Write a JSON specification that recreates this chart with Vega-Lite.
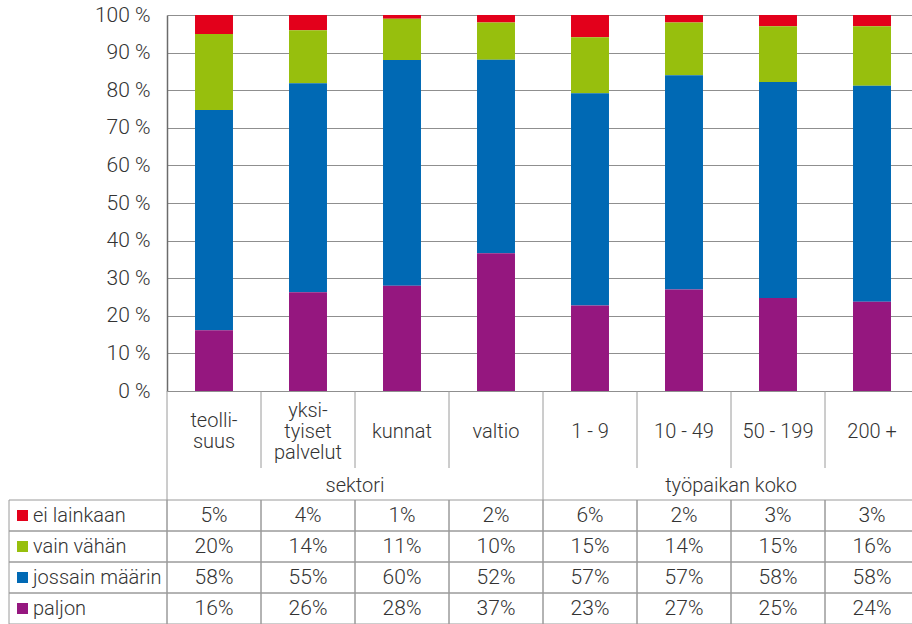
{
  "$schema": "https://vega.github.io/schema/vega-lite/v6.json",
  "autosize": {"type": "pad"},
  "padding": {"left": 8, "top": 4, "right": 0, "bottom": 0},
  "background": "white",
  "config": {
    "view": {"stroke": null},
    "font": "Roboto",
    "text": {"font": "Roboto", "fontWeight": 300, "fontSize": 20, "color": "#333333"},
    "axis": {"labelFont": "Roboto", "labelFontWeight": 300}
  },
  "datasets": {
    "osuudet": [
      {"sarake": "teolli-\nsuus", "sarja": "ei lainkaan", "osuus": 0.05},
      {"sarake": "teolli-\nsuus", "sarja": "vain vähän", "osuus": 0.20},
      {"sarake": "teolli-\nsuus", "sarja": "jossain määrin", "osuus": 0.58},
      {"sarake": "teolli-\nsuus", "sarja": "paljon", "osuus": 0.16},
      {"sarake": "yksi-\ntyiset\npalvelut", "sarja": "ei lainkaan", "osuus": 0.04},
      {"sarake": "yksi-\ntyiset\npalvelut", "sarja": "vain vähän", "osuus": 0.14},
      {"sarake": "yksi-\ntyiset\npalvelut", "sarja": "jossain määrin", "osuus": 0.55},
      {"sarake": "yksi-\ntyiset\npalvelut", "sarja": "paljon", "osuus": 0.26},
      {"sarake": "kunnat", "sarja": "ei lainkaan", "osuus": 0.01},
      {"sarake": "kunnat", "sarja": "vain vähän", "osuus": 0.11},
      {"sarake": "kunnat", "sarja": "jossain määrin", "osuus": 0.60},
      {"sarake": "kunnat", "sarja": "paljon", "osuus": 0.28},
      {"sarake": "valtio", "sarja": "ei lainkaan", "osuus": 0.02},
      {"sarake": "valtio", "sarja": "vain vähän", "osuus": 0.10},
      {"sarake": "valtio", "sarja": "jossain määrin", "osuus": 0.52},
      {"sarake": "valtio", "sarja": "paljon", "osuus": 0.37},
      {"sarake": "1 - 9", "sarja": "ei lainkaan", "osuus": 0.06},
      {"sarake": "1 - 9", "sarja": "vain vähän", "osuus": 0.15},
      {"sarake": "1 - 9", "sarja": "jossain määrin", "osuus": 0.57},
      {"sarake": "1 - 9", "sarja": "paljon", "osuus": 0.23},
      {"sarake": "10 - 49", "sarja": "ei lainkaan", "osuus": 0.02},
      {"sarake": "10 - 49", "sarja": "vain vähän", "osuus": 0.14},
      {"sarake": "10 - 49", "sarja": "jossain määrin", "osuus": 0.57},
      {"sarake": "10 - 49", "sarja": "paljon", "osuus": 0.27},
      {"sarake": "50 - 199", "sarja": "ei lainkaan", "osuus": 0.03},
      {"sarake": "50 - 199", "sarja": "vain vähän", "osuus": 0.15},
      {"sarake": "50 - 199", "sarja": "jossain määrin", "osuus": 0.58},
      {"sarake": "50 - 199", "sarja": "paljon", "osuus": 0.25},
      {"sarake": "200 +", "sarja": "ei lainkaan", "osuus": 0.03},
      {"sarake": "200 +", "sarja": "vain vähän", "osuus": 0.16},
      {"sarake": "200 +", "sarja": "jossain määrin", "osuus": 0.58},
      {"sarake": "200 +", "sarja": "paljon", "osuus": 0.24}
    ],
    "sarakkeet": [
      {"sarake": "teolli-\nsuus"},
      {"sarake": "yksi-\ntyiset\npalvelut"},
      {"sarake": "kunnat"},
      {"sarake": "valtio"},
      {"sarake": "1 - 9"},
      {"sarake": "10 - 49"},
      {"sarake": "50 - 199"},
      {"sarake": "200 +"}
    ],
    "ryhmat": [
      {"ryhma": "sektori"},
      {"ryhma": "työpaikan koko"}
    ],
    "sarjat": [
      {"sarja": "ei lainkaan", "jarjestys": 4},
      {"sarja": "vain vähän", "jarjestys": 3},
      {"sarja": "jossain määrin", "jarjestys": 2},
      {"sarja": "paljon", "jarjestys": 1}
    ]
  },
  "spacing": 0,
  "bounds": "flush",
  "vconcat": [
    {
      "width": 752,
      "height": 376,
      "data": {"name": "osuudet"},
      "transform": [
        {"lookup": "sarja", "from": {"data": {"name": "sarjat"}, "key": "sarja", "fields": ["jarjestys"]}}
      ],
      "mark": {"type": "bar"},
      "encoding": {
        "x": {
          "field": "sarake", "type": "nominal",
          "scale": {"domain": ["teolli-\nsuus", "yksi-\ntyiset\npalvelut", "kunnat", "valtio", "1 - 9", "10 - 49", "50 - 199", "200 +"], "paddingInner": 0.596, "paddingOuter": 0.298},
          "axis": null
        },
        "y": {
          "field": "osuus", "type": "quantitative", "stack": "normalize",
          "scale": {"domain": [0, 1]},
          "axis": {
            "title": null,
            "values": [0, 0.1, 0.2, 0.3, 0.4, 0.5, 0.6, 0.7, 0.8, 0.9, 1],
            "labelExpr": "format(datum.value * 100, '.0f') + ' %'",
            "grid": true, "gridColor": "#8f8f8f", "gridWidth": 1,
            "ticks": false,
            "domainColor": "#6b6b6b", "domainWidth": 1.5,
            "labelFontSize": 21, "labelColor": "#333333", "labelPadding": 17
          }
        },
        "order": {"field": "jarjestys", "type": "quantitative", "sort": "ascending"},
        "color": {
          "field": "sarja", "type": "nominal",
          "scale": {"domain": ["paljon", "jossain määrin", "vain vähän", "ei lainkaan"], "range": ["#95177f", "#0069b4", "#97bf0d", "#e3001b"]},
          "legend": null
        }
      }
    },
    {
      "width": 752,
      "height": 77,
      "data": {"name": "sarakkeet"},
      "encoding": {
        "x": {
          "field": "sarake", "type": "nominal",
          "scale": {"type": "band", "domain": ["teolli-\nsuus", "yksi-\ntyiset\npalvelut", "kunnat", "valtio", "1 - 9", "10 - 49", "50 - 199", "200 +"], "paddingInner": 0, "paddingOuter": 0},
          "axis": null
        }
      },
      "layer": [
        {"mark": {"type": "rule", "color": "#9a9a9a", "strokeWidth": 1}, "encoding": {"x": {"field": "sarake", "type": "nominal", "bandPosition": 0, "axis": null}}},
        {
          "mark": {
            "type": "text", "lineBreak": "\n", "lineHeight": 21, "baseline": "middle", "align": "center",
            "dy": {"expr": "2 - (length(split(datum.sarake, '\\n')) - 1) * 10.5"}
          },
          "encoding": {"text": {"field": "sarake"}}
        }
      ]
    },
    {
      "width": 752,
      "height": 32,
      "data": {"name": "ryhmat"},
      "encoding": {
        "x": {
          "field": "ryhma", "type": "nominal",
          "scale": {"type": "band", "domain": ["sektori", "työpaikan koko"], "paddingInner": 0, "paddingOuter": 0},
          "axis": null
        }
      },
      "layer": [
        {"mark": {"type": "rule", "color": "#9a9a9a", "strokeWidth": 1}, "encoding": {"x": {"field": "ryhma", "type": "nominal", "bandPosition": 0, "axis": null}}},
        {"mark": {"type": "text", "baseline": "middle", "align": "center", "dy": 2}, "encoding": {"text": {"field": "ryhma"}}}
      ]
    },
    {
      "width": 752,
      "height": 124,
      "layer": [
        {
          "data": {"name": "osuudet"},
          "encoding": {
            "x": {
              "field": "sarake", "type": "nominal",
              "scale": {"type": "band", "domain": ["teolli-\nsuus", "yksi-\ntyiset\npalvelut", "kunnat", "valtio", "1 - 9", "10 - 49", "50 - 199", "200 +"], "paddingInner": 0, "paddingOuter": 0},
              "axis": null
            },
            "y": {
              "field": "sarja", "type": "nominal",
              "scale": {"type": "band", "domain": ["ei lainkaan", "vain vähän", "jossain määrin", "paljon"], "paddingInner": 0, "paddingOuter": 0},
              "axis": null
            }
          },
          "layer": [
            {"mark": {"type": "rect", "fill": "white", "fillOpacity": 0, "stroke": "#9a9a9a", "strokeWidth": 1}},
            {"mark": {"type": "text", "baseline": "middle", "align": "center", "fontSize": 21}, "encoding": {"text": {"field": "osuus", "type": "quantitative", "format": ".0%"}}}
          ]
        },
        {
          "data": {"name": "sarjat"},
          "encoding": {
            "y": {
              "field": "sarja", "type": "nominal",
              "scale": {"type": "band", "domain": ["ei lainkaan", "vain vähän", "jossain määrin", "paljon"], "paddingInner": 0, "paddingOuter": 0},
              "axis": null
            }
          },
          "layer": [
            {
              "mark": {"type": "rect", "fill": "white", "fillOpacity": 0, "stroke": "#9a9a9a", "strokeWidth": 1},
              "encoding": {"x": {"datum": "selite", "type": "nominal", "scale": {"type": "band", "domain": ["selite"], "range": [-158, 0], "paddingInner": 0, "paddingOuter": 0}, "axis": null}}
            },
            {
              "mark": {"type": "square", "size": 121, "filled": true, "opacity": 1},
              "encoding": {
                "x": {"datum": "selite", "type": "nominal", "bandPosition": 0.0854, "scale": {"type": "band", "domain": ["selite"], "range": [-158, 0], "paddingInner": 0, "paddingOuter": 0}, "axis": null},
                "color": {
                  "field": "sarja", "type": "nominal",
                  "scale": {"domain": ["paljon", "jossain määrin", "vain vähän", "ei lainkaan"], "range": ["#95177f", "#0069b4", "#97bf0d", "#e3001b"]},
                  "legend": null
                }
              }
            },
            {
              "mark": {"type": "text", "align": "left", "baseline": "middle"},
              "encoding": {
                "x": {"datum": "selite", "type": "nominal", "bandPosition": 0.152, "scale": {"type": "band", "domain": ["selite"], "range": [-158, 0], "paddingInner": 0, "paddingOuter": 0}, "axis": null},
                "text": {"field": "sarja"}
              }
            }
          ]
        }
      ],
      "resolve": {"scale": {"x": "independent"}}
    }
  ],
  "resolve": {"scale": {"x": "independent", "y": "independent", "color": "shared"}}
}
